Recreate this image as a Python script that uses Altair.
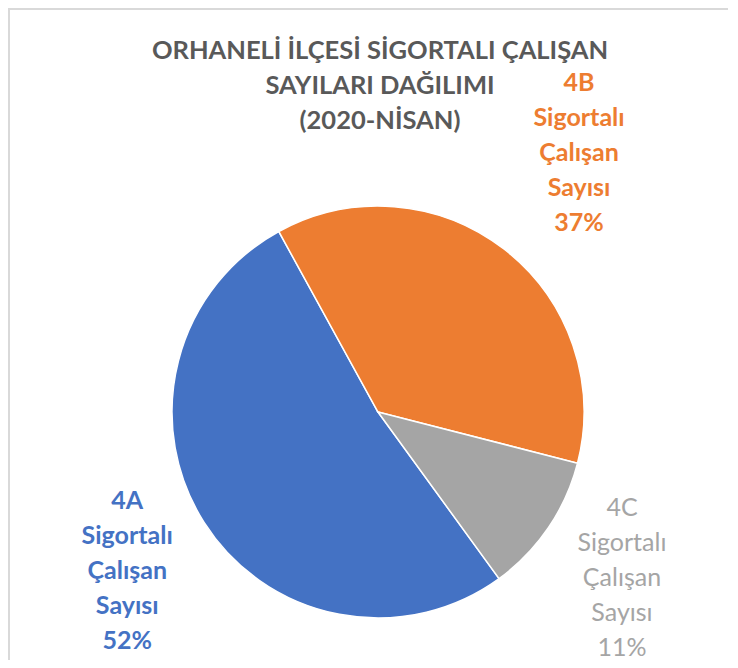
import math
import altair as alt
import pandas as pd

categories = ["4A", "4B", "4C"]
percents = [52, 37, 11]
label_words = ["Sigortalı", "Çalışan", "Sayısı"]
colors = ["#4472C4", "#ED7D31", "#A5A5A5"]
title_lines = ["ORHANELİ İLÇESİ SİGORTALI ÇALIŞAN", "SAYILARI DAĞILIMI", "(2020-NİSAN)"]

df = pd.DataFrame({"cat": categories, "pct": percents})
df["label"] = [c + "\n" + "\n".join(label_words) + "\n" + str(p) + "%" for c, p in zip(categories, percents)]

FONT = "Lato"
LH = 35
start = math.radians(144)
theta_scale = alt.Scale(domain=[0, 100], range=[start, start + 2 * math.pi])
color_scale = alt.Scale(domain=categories, range=colors)
cx, cy = 370, 404

base = alt.Chart(df)

pie = base.mark_arc(outerRadius=206, stroke="white", strokeWidth=1.5).encode(
    theta=alt.Theta("pct:Q", stack=True, scale=theta_scale),
    color=alt.Color("cat:N", scale=color_scale, legend=None),
    order=alt.Order("cat:N"),
    x=alt.value(cx),
    y=alt.value(cy),
)


def label_layer(cat, r, weight):
    return (
        base.transform_stack(stack="pct", groupby=[], as_=["s0", "s1"], sort=[alt.SortField("cat")])
        .transform_calculate(mid="(datum.s0 + datum.s1) / 2")
        .transform_filter(alt.datum.cat == cat)
        .mark_text(radius=r, font=FONT, fontSize=25, fontWeight=weight, dy=-2 * LH,
                   lineBreak="\n", lineHeight=LH, align="center", baseline="middle")
        .encode(
            theta=alt.Theta("mid:Q", scale=theta_scale, stack=False),
            text="label:N",
            color=alt.Color("cat:N", scale=color_scale, legend=None),
            x=alt.value(cx),
            y=alt.value(cy),
        )
    )


labels = [label_layer("4A", 297, "bold"), label_layer("4B", 328, "bold"), label_layer("4C", 295, "normal")]

title = alt.Chart(pd.DataFrame({"t": ["\n".join(title_lines)]})).mark_text(
    font=FONT, fontSize=25.5, fontWeight="bold", color="#595959",
    lineBreak="\n", lineHeight=35, align="center", baseline="middle",
).encode(text="t:N", x=alt.value(372), y=alt.value(43))

border_left = alt.Chart(pd.DataFrame({"a": [0]})).mark_rule(color="#D9D9D9", strokeWidth=2).encode(
    x=alt.value(1), y=alt.value(0), y2=alt.value(652))
border_top = alt.Chart(pd.DataFrame({"a": [0]})).mark_rule(color="#D9D9D9", strokeWidth=2).encode(
    x=alt.value(0), x2=alt.value(720), y=alt.value(1))

chart = alt.layer(pie, *labels, title, border_left, border_top).properties(
    width=720, height=652, padding=0, autosize="none", background="white"
).configure_view(stroke=None)

chart.save("out.html", embed_options={"renderer": "svg", "actions": False})
